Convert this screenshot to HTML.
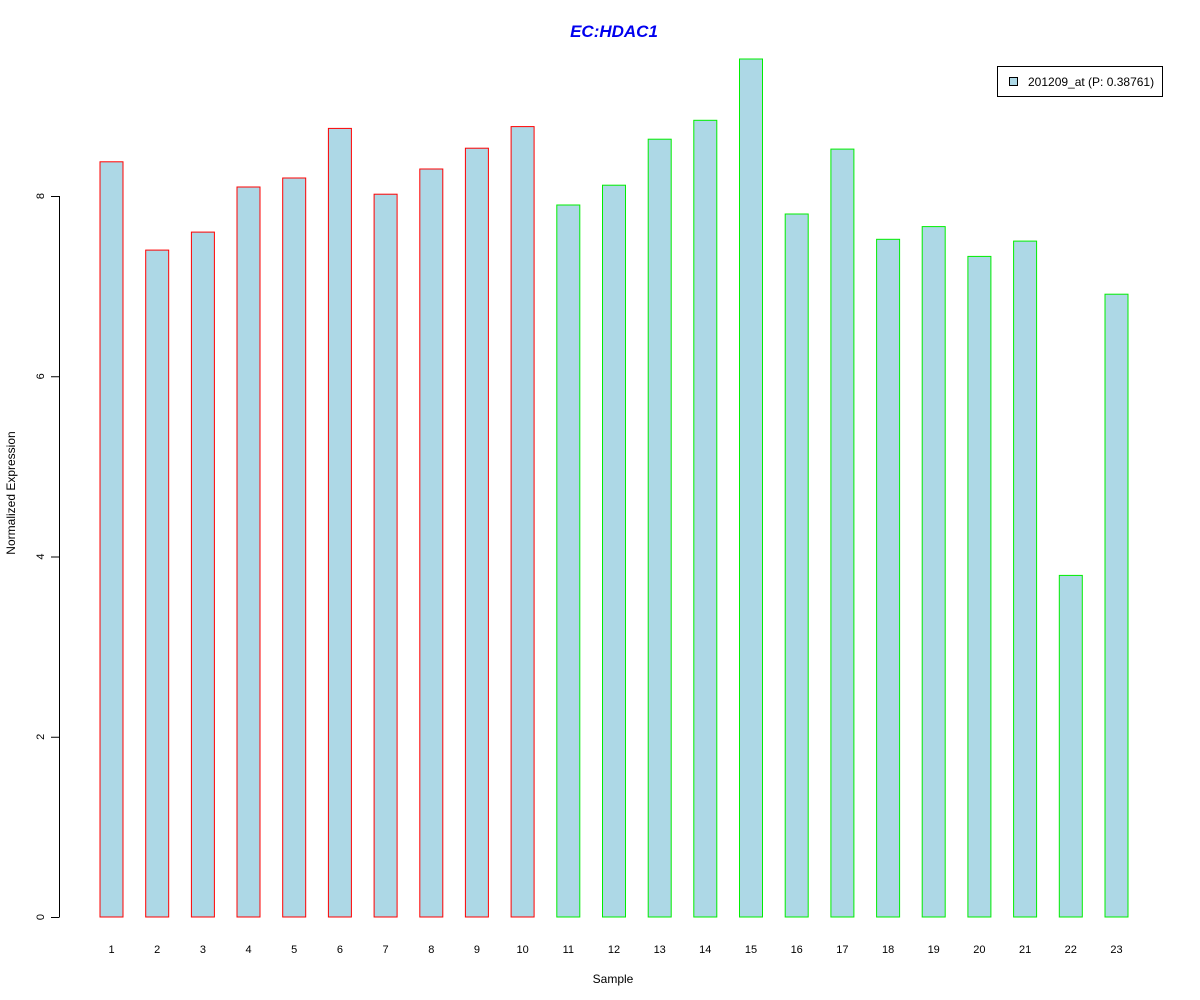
<!DOCTYPE html>
<html><head><meta charset="utf-8"><style>
body{margin:0;background:#fff;}
svg{display:block;font-family:"Liberation Sans",Arial,sans-serif;}
</style></head><body>
<svg id="chart" width="1200" height="1000">
<text x="614" y="37" text-anchor="middle" font-size="17" font-weight="bold" font-style="italic" fill="#0000ee">EC:HDAC1</text>
<text x="613" y="983" text-anchor="middle" font-size="12">Sample</text>
<text transform="translate(15,493) rotate(-90)" text-anchor="middle" font-size="12">Normalized Expression</text>
<g id="bars"></g>
<g id="yaxis"></g>
<g id="xlabels"></g>
<g>
<rect x="997.5" y="66.5" width="165" height="30" fill="#fff" stroke="#000"/>
<rect x="1009.5" y="77.5" width="8" height="8" fill="#add8e6" stroke="#000"/>
<text x="1028" y="86" font-size="12">201209_at (P: 0.38761)</text>
</g>
</svg>
<script>
const categories=["1","2","3","4","5","6","7","8","9","10","11","12","13","14","15","16","17","18","19","20","21","22","23"];
const values=[8.38,7.40,7.60,8.10,8.20,8.75,8.02,8.30,8.53,8.77,7.90,8.12,8.63,8.84,9.52,7.80,8.52,7.52,7.66,7.33,7.50,3.79,6.91];
const groups=["red","red","red","red","red","red","red","red","red","red","green","green","green","green","green","green","green","green","green","green","green","green","green"];
const yTicks=[0,2,4,6,8];
const NS="http://www.w3.org/2000/svg";
const y=v=>917-v*90.125;
const xc=i=>111.5+i*45.68;
const bars=document.getElementById('bars');
values.forEach((v,i)=>{
  const r=document.createElementNS(NS,'rect');
  r.setAttribute('x',(xc(i)-11.5).toFixed(1));
  r.setAttribute('y',y(v).toFixed(1));
  r.setAttribute('width',23);
  r.setAttribute('height',(917-y(v)).toFixed(1));
  r.setAttribute('fill','#add8e6');
  r.setAttribute('stroke',groups[i]==="red"?'#ff0000':'#00ee00');
  
  
  bars.appendChild(r);
  const t=document.createElementNS(NS,'text');
  t.setAttribute('x',xc(i).toFixed(1));
  t.setAttribute('y',953);
  t.setAttribute('text-anchor','middle');
  t.setAttribute('font-size','11');
  t.textContent=categories[i];
  
  
  document.getElementById('xlabels').appendChild(t);
});
const ya=document.getElementById('yaxis');
const ln=document.createElementNS(NS,'line');
ln.setAttribute('x1',59.5);ln.setAttribute('x2',59.5);
ln.setAttribute('y1',y(yTicks[0]));ln.setAttribute('y2',y(yTicks[yTicks.length-1]));
ln.setAttribute('stroke','#000');


ya.appendChild(ln);
yTicks.forEach(v=>{
  const tk=document.createElementNS(NS,'line');
  tk.setAttribute('x1',51);tk.setAttribute('x2',59.5);
  tk.setAttribute('y1',y(v)+0.5);tk.setAttribute('y2',y(v)+0.5);
  tk.setAttribute('stroke','#000');
  
  
  ya.appendChild(tk);
  const t=document.createElementNS(NS,'text');
  t.setAttribute('transform','translate(44,'+y(v)+') rotate(-90)');
  t.setAttribute('text-anchor','middle');
  t.setAttribute('font-size','11');
  t.textContent=v;
  
  
  ya.appendChild(t);
});
</script>
</body></html>
